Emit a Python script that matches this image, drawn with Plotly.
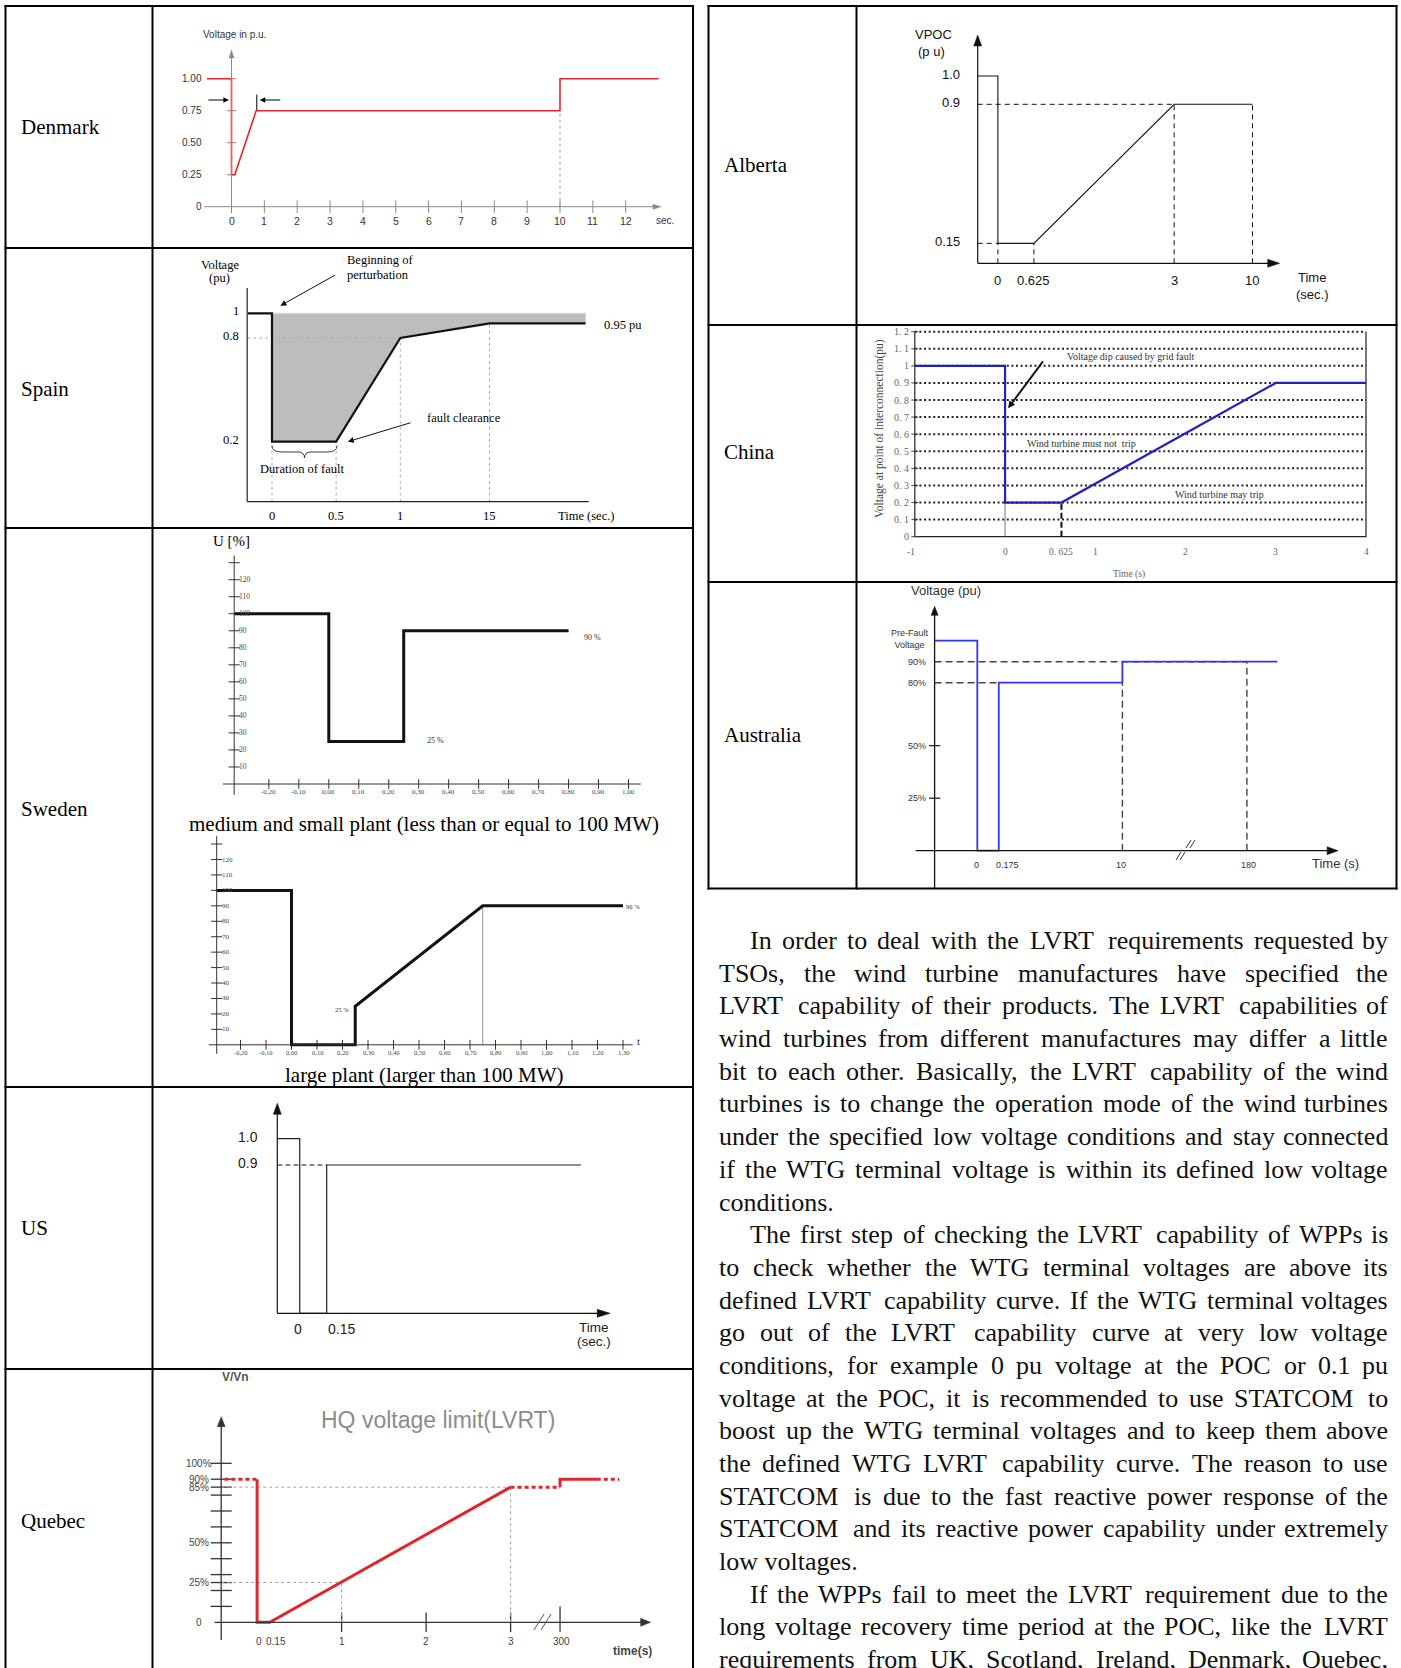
import numpy as np
import plotly.graph_objects as go

W, H = 1401, 1668
SERIF = "'Liberation Serif', 'Times New Roman', serif"
SANS = "'Liberation Sans', Arial, sans-serif"
NARROW = "'Liberation Sans Narrow', 'Arial Narrow', 'Liberation Sans', sans-serif"

# ============================ DATA ============================
# Denmark : voltage (p.u.) vs time (s)
dk_t = [-0.75, 0.0, 0.0, 0.1, 0.75, 10.0, 10.0, 13.0]
dk_u = [1.00, 1.00, 0.25, 0.25, 0.75, 0.75, 1.00, 1.00]
dk_xticks = [0, 1, 2, 3, 4, 5, 6, 7, 8, 9, 10, 11, 12]
dk_yticks = [0.0, 0.25, 0.50, 0.75, 1.00]
dk_ylabels = ["0", "0.25", "0.50", "0.75", "1.00"]

# Spain
es_t = [0.0, 0.0, 0.5, 1.0, 15.0]
es_u = [1.0, 0.2, 0.2, 0.8, 0.95]
es_xticks = [0.0, 0.5, 1.0, 15.0]
es_xlabels = ["0", "0.5", "1", "15"]
es_yticks = [1.0, 0.8, 0.2]
es_ylabels = ["1", "0.8", "0.2"]

# Sweden (U in %, t in s)
se1_t = [-0.315, 0.0, 0.0, 0.25, 0.25, 0.80]
se1_u = [100, 100, 25, 25, 90, 90]
se2_t = [-0.293, 0.0, 0.0, 0.25, 0.25, 0.75, 1.30]
se2_u = [100, 100, 0, 0, 25, 90, 90]
se_yticks = [10, 20, 30, 40, 50, 60, 70, 80, 90, 100, 110, 120]
se_ymarks = [10, 20, 30, 40, 50, 60, 70, 80, 90, 100, 110, 120, 130]
se1_xticks = [-0.2, -0.1, 0.0, 0.1, 0.2, 0.3, 0.4, 0.5, 0.6, 0.7, 0.8, 0.9, 1.0]
se2_xticks = [-0.2, -0.1, 0.0, 0.1, 0.2, 0.3, 0.4, 0.5, 0.6, 0.7, 0.8, 0.9, 1.0, 1.1, 1.2, 1.3]

# US
us_t = [-0.124, 0.0, 0.0, 0.15, 0.15, 1.563]
us_u = [1.0, 1.0, 0.0, 0.0, 0.9, 0.9]
us_xticks = [0.0, 0.15]
us_xlabels = ["0", "0.15"]
us_yticks = [1.0, 0.9]
us_ylabels = ["1.0", "0.9"]

# Quebec (V/Vn in %)
q_t = [0.0, 0.0, 0.15, 3.0, 300.0, 300.0]
q_u = [90, 0, 0, 85, 85, 90]
q_xticks = [0, 0.15, 1, 2, 3, 300]
q_xlabels = ["0", "0.15", "1", "2", "3", "300"]
q_yticks = [100, 90, 85, 50, 25, 0]
q_ylabels = ["100%", "90%", "85%", "50%", "25%", "0"]
q_ymarks = [10, 20, 30, 40, 50, 60, 70, 80, 90, 100, 85, 25]

# Alberta
ab_t = [0.0, 0.0, 0.625, 3.0, 10.0]
ab_u = [1.0, 0.15, 0.15, 0.9, 0.9]
ab_xticks = [0.0, 0.625, 3.0, 10.0]
ab_xlabels = ["0", "0.625", "3", "10"]
ab_yticks = [1.0, 0.9, 0.15]
ab_ylabels = ["1.0", "0.9", "0.15"]

# China
cn_t = [-1.0, 0.0, 0.0, 0.625, 3.0, 4.0]
cn_u = [1.0, 1.0, 0.2, 0.2, 0.9, 0.9]
cn_yticks = [0.0, 0.1, 0.2, 0.3, 0.4, 0.5, 0.6, 0.7, 0.8, 0.9, 1.0, 1.1, 1.2]
cn_ylabels = ["0", "0. 1", "0. 2", "0. 3", "0. 4", "0. 5", "0. 6", "0. 7", "0. 8", "0. 9", "1", "1. 1", "1. 2"]
cn_xticks = [-1, 0, 0.625, 1, 2, 3, 4]
cn_xlabels = ["-1", "0", "0. 625", "1", "2", "3", "4"]

# Australia
au_t = [0.0, 0.0, 0.175, 0.175, 10.0, 10.0, 180.0]
au_u = [1.0, 0.0, 0.0, 0.8, 0.8, 0.9, 0.9]
au_xticks = [0, 0.175, 10, 180]
au_xlabels = ["0", "0.175", "10", "180"]
au_yticks = [0.9, 0.8, 0.5, 0.25]
au_ylabels = ["90%", "80%", "50%", "25%"]

# Table labels
left_rows = ["Denmark", "Spain", "Sweden", "US", "Quebec"]
right_rows = ["Alberta", "China", "Australia"]

para_lines = [
    "In order to deal with the LVRT requirements requested by",
    "TSOs, the wind turbine manufactures have specified the",
    "LVRT capability of their products. The LVRT capabilities of",
    "wind turbines from different manufactures may differ a little",
    "bit to each other. Basically, the LVRT capability of the wind",
    "turbines is to change the operation mode of the wind turbines",
    "under the specified low voltage conditions and stay connected",
    "if the WTG terminal voltage is within its defined low voltage",
    "conditions.",
    "The first step of checking the LVRT capability of WPPs is",
    "to check whether the WTG terminal voltages are above its",
    "defined LVRT capability curve. If the WTG terminal voltages",
    "go out of the LVRT capability curve at very low voltage",
    "conditions, for example 0 pu voltage at the POC or 0.1 pu",
    "voltage at the POC, it is recommended to use STATCOM to",
    "boost up the WTG terminal voltages and to keep them above",
    "the defined WTG LVRT capability curve. The reason to use",
    "STATCOM is due to the fast reactive power response of the",
    "STATCOM and its reactive power capability under extremely",
    "low voltages.",
    "If the WPPs fail to meet the LVRT requirement due to the",
    "long voltage recovery time period at the POC, like the LVRT",
    "requirements from UK, Scotland, Ireland, Denmark, Quebec,",
]
para_indent = {0, 9, 20}
para_last = {8, 19}

# ============================ HELPERS ============================
fig = go.Figure()
shapes, annos = [], []


def P(x, y):
    return x / W, 1 - y / H


def pline(x0, y0, x1, y1, color="#000", width=1.0, dash=None):
    a, b = P(x0, y0)
    c, d = P(x1, y1)
    shapes.append(dict(type="line", xref="paper", yref="paper", x0=a, y0=b, x1=c, y1=d,
                       line=dict(color=color, width=width, dash=dash)))


def ppath(cmds, color="#000", width=1.0, fill=None):
    parts = []
    for c, pts in cmds:
        parts.append(c + " " + " ".join("%.6f,%.6f" % P(x, y) for x, y in pts))
    path = " ".join(parts)
    d = dict(type="path", xref="paper", yref="paper", path=path, line=dict(color=color, width=width))
    if fill:
        d["fillcolor"] = fill
        d["path"] = path + " Z"
    shapes.append(d)


def tri(tx, ty, direc, ln, hw, color="#000"):
    if direc == "up":
        pts = [(tx, ty), (tx - hw, ty + ln), (tx + hw, ty + ln)]
    else:
        pts = [(tx, ty), (tx - ln, ty - hw), (tx - ln, ty + hw)]
    ppath([("M", [pts[0]]), ("L", [pts[1]]), ("L", [pts[2]])], color, 0.5, fill=color)


def ptext(x, y, s, size, family=SERIF, color="#000", xa="center", ya="middle", angle=0, align="center"):
    a, b = P(x, y)
    annos.append(dict(xref="paper", yref="paper", x=a, y=b, text=s, showarrow=False, xanchor=xa,
                      yanchor=ya, textangle=angle, align=align, borderpad=0,
                      font=dict(size=size, family=family, color=color)))


def parrow(tail, tip, color="#000", width=1.0, head=2, size=1.0):
    a, b = P(*tip)
    annos.append(dict(xref="paper", yref="paper", x=a, y=b, ax=tail[0] - tip[0], ay=tail[1] - tip[1],
                      text="", showarrow=True, arrowhead=head, arrowsize=size, arrowwidth=width,
                      arrowcolor=color))


def sch(v, knots, pos):
    v = np.atleast_1d(np.asarray(v, dtype=float))
    out = np.interp(v, knots, pos)
    s0 = (pos[1] - pos[0]) / (knots[1] - knots[0])
    s1 = (pos[-1] - pos[-2]) / (knots[-1] - knots[-2])
    lo, hi = v < knots[0], v > knots[-1]
    out[lo] = pos[0] + (v[lo] - knots[0]) * s0
    out[hi] = pos[-1] + (v[hi] - knots[-1]) * s1
    return list(out)


class Chart:
    def __init__(self, idx, box, xcal, ycal):
        s = "" if idx == 1 else str(idx)
        self.xa, self.ya = "x" + s, "y" + s
        d1, p1, d2, p2 = xcal
        e1, q1, e2, q2 = ycal
        self.kx, self.xd0, self.xp0 = (p2 - p1) / (d2 - d1), d1, p1
        self.ky, self.yd0, self.yp0 = (q2 - q1) / (e2 - e1), e1, q1
        bx0, by0, bx1, by1 = box
        fig.update_layout(**{
            "xaxis" + s: dict(domain=[bx0 / W, bx1 / W], range=[self.dx(bx0), self.dx(bx1)],
                              visible=False, anchor=self.ya, fixedrange=True),
            "yaxis" + s: dict(domain=[1 - by1 / H, 1 - by0 / H], range=[self.dy(by1), self.dy(by0)],
                              visible=False, anchor=self.xa, fixedrange=True)})

    def dx(self, p):
        return self.xd0 + (p - self.xp0) / self.kx

    def dy(self, p):
        return self.yd0 + (p - self.yp0) / self.ky

    def line(self, x, y, color="#000", width=1.0, dash=None, fill=None, fillcolor=None):
        fig.add_trace(go.Scatter(x=list(x), y=list(y), xaxis=self.xa, yaxis=self.ya, mode="lines",
                                 line=dict(color=color, width=width, dash=dash), fill=fill,
                                 fillcolor=fillcolor, hoverinfo="skip", showlegend=False))

    def ticks(self, x, y, symbol, size, color="#000", width=1.0):
        fig.add_trace(go.Scatter(x=list(x), y=list(y), xaxis=self.xa, yaxis=self.ya, mode="markers",
                                 marker=dict(symbol=symbol, size=size, color=color,
                                             line=dict(color=color, width=width)),
                                 hoverinfo="skip", showlegend=False))

    def text(self, x, y, s, size, family=SERIF, color="#000", xa="center", ya="middle", xs=0, ys=0):
        annos.append(dict(xref=self.xa, yref=self.ya, x=x, y=y, text=s, showarrow=False, xanchor=xa,
                          yanchor=ya, xshift=xs, yshift=ys, borderpad=0,
                          font=dict(size=size, family=family, color=color)))

    def arrow(self, tail, tip, color="#000", width=1.0, head=2, size=1.0):
        annos.append(dict(xref=self.xa, yref=self.ya, x=tip[0], y=tip[1], axref=self.xa,
                          ayref=self.ya, ax=tail[0], ay=tail[1], text="", showarrow=True,
                          arrowhead=head, arrowsize=size, arrowwidth=width, arrowcolor=color))


# ============================ DENMARK ============================
RED = "#e3262a"
GAX = "#8a8a8a"
dk = Chart(1, (154, 8, 692, 246), (0, 231.5, 10, 560.0), (0, 206.7, 1.0, 78.7))
pline(231.5, 57, 231.5, 210, GAX, 1)
tri(231.5, 50, "up", 8, 2.5, GAX)
pline(204, 206.7, 654, 206.7, GAX, 1)
tri(661, 206.7, "right", 8, 2.5, GAX)
dk.ticks(dk_xticks, [0] * len(dk_xticks), "line-ns", 9, GAX, 1)
dk.ticks([0] * 4, dk_yticks[1:], "line-ew", 7, GAX, 1)
for t in dk_xticks:
    dk.text(t, 0, str(t), 10.5, NARROW, "#333", ys=-14)
ptext(665, 220.7, "sec.", 10, NARROW, "#333")
for v, l in zip(dk_yticks, dk_ylabels):
    dk.text(0, v, l, 10, NARROW, "#333", xa="right", xs=-29)
ptext(234, 35, "Voltage in p.u.", 10, NARROW, "#333")
dk.line([10, 10], [0, 0.75], "#999", 1, "dot")
dk.line(dk_t, dk_u, RED, 1.6)
dk.arrow((-0.75, 0.834), (-0.08, 0.834), "#000", 1.1, 2, 1.0)
dk.arrow((1.53, 0.834), (0.86, 0.834), "#000", 1.1, 2, 1.0)
dk.line([0.77, 0.77], [0.755, 0.875], "#000", 1)

# ============================ SPAIN ============================
es_xk, es_xp = [0.0, 0.5, 1.0, 15.0], [0.0, 0.5, 1.0, 1.696]
es_yk, es_yp = [0.2, 0.8, 0.95, 1.0], [0.2, 0.8, 0.885, 0.943]
es = Chart(2, (154, 249, 692, 527), (0, 272.0, 1.0, 400.3), (0.2, 441.7, 0.8, 338.0))
EX = lambda v: sch(v, es_xk, es_xp)
EY = lambda v: sch(v, es_yk, es_yp)
es_lead, es_end = es.dx(248.0), es.dx(585.6)
es_yax, es_xax = es.dy(501.7), es.dx(247.2)
fx = [EX(0)[0], es_end, es_end] + EX(es_t[::-1])
fy = [EY(1.0)[0], EY(1.0)[0], EY(0.95)[0]] + EY(es_u[::-1])
es.line(fx, fy, "#bdbdbd", 0.1, fill="toself", fillcolor="#bdbdbd")
es.line([EX(0)[0], es_end], [EY(1.0)[0]] * 2, "#d6d6d6", 1.2)
for t, u in zip(es_t[1:], es_u[1:]):
    es.line(EX([t, t]), [es_yax, EY(u)[0]], "#aaaaaa", 1, "dot")
es.line([es_xax, EX(1.0)[0]], EY([0.8, 0.8]), "#aaaaaa", 1, "dot")
es.line([es_lead] + EX(es_t) + [es_end], EY([1.0] + es_u + [0.95]), "#111", 2.2)
pline(247.2, 288, 247.2, 501.7, "#222", 1.2)
pline(247.2, 501.7, 588.7, 501.7, "#222", 1.2)
for t, l in zip(es_xticks, es_xlabels):
    es.text(EX(t)[0], es_yax, l, 12.5, SERIF, ys=-14)
for v, l in zip(es_yticks, es_ylabels):
    es.text(es_xax, EY(v)[0], l, 12.5, SERIF, xa="right", xs=-7, ys=2)
ptext(219.9, 265, "Voltage", 12.5)
ptext(219.9, 278.3, "(pu)", 12.5)
ptext(346.4, 260, "Beginning of", 12.5, xa="left")
ptext(346.4, 275, "perturbation", 12.5, xa="left")
ptext(602.6, 325, "0.95 pu", 12.5, xa="left")
ptext(426.3, 418.3, "fault clearance", 12.5, xa="left")
ptext(302.4, 469, "Duration of fault", 12.5)
ptext(585.6, 515.7, "Time (sec.)", 12.5)
parrow((336.5, 274.3), (280.4, 305.7), "#111", 1, 2, 1.2)
parrow((412, 422.3), (347.8, 441.7), "#111", 1, 2, 1.2)
ppath([("M", [(272, 446)]), ("Q", [(272, 452), (282, 452)]), ("L", [(298, 452)]),
       ("Q", [(304.5, 452), (304.5, 458)]), ("Q", [(304.5, 452), (311, 452)]), ("L", [(327, 452)]),
       ("Q", [(337, 452), (337, 446)])], "#222", 0.9)

# ============================ SWEDEN ============================
def sw_label(t):
    return ("%.2f" % t).replace(".", ",")

se1 = Chart(3, (154, 529, 692, 800), (0, 328.8, 1.0, 628.5), (0, 784.0, 120, 579.7))
ax1 = se1.dx(234.2)
pline(234.2, 555.6, 234.2, 794.8, "#333", 1)
pline(223, 784, 640.8, 784, "#333", 1)
se1.ticks([ax1] * len(se_ymarks), se_ymarks, "line-ew", 8, "#333", 1)
se1.ticks(se1_xticks, [0] * len(se1_xticks), "line-ns", 7, "#333", 1)
for v in se_yticks:
    se1.text(ax1, v, str(v), 7.5, SERIF, "#444", xa="left", xs=4)
for t in se1_xticks:
    se1.text(t, 0, sw_label(t), 7, SERIF, "#444", ys=-8)
se1.line(se1_t, se1_u, "#111", 3)
ptext(592.3, 637.6, "90 %", 8, SERIF, "#333")
ptext(435.3, 740.8, "25 %", 8, SERIF, "#333")
ptext(231, 541.2, "U [%]", 15)
ptext(424, 823.6, "medium and small plant (less than or equal to 100 MW)", 21)

se2 = Chart(4, (154, 832, 692, 1062), (0, 291.5, 1.0, 546.5), (0, 1044.8, 120, 859.5))
ax2 = se2.dx(216.7)
pline(216.7, 836.2, 216.7, 1053.8, "#333", 1)
pline(208.7, 1044.8, 632.7, 1044.8, "#333", 1)
ptext(638.5, 1041, "t", 11, SERIF, "#333")
se2.ticks([ax2] * len(se_ymarks), se_ymarks, "line-ew", 8, "#333", 1)
se2.ticks(se2_xticks, [0] * len(se2_xticks), "line-ns", 7, "#333", 1)
for v in se_yticks:
    se2.text(ax2, v, str(v), 7, SERIF, "#444", xa="left", xs=4)
for t in se2_xticks:
    se2.text(t, 0, sw_label(t), 6.5, SERIF, "#444", ys=-8)
se2.line([0.75, 0.75], [0, 90], "#777", 0.8)
se2.line(se2_t, se2_u, "#111", 3)
ptext(342, 1009.9, "25 %", 6.5, SERIF, "#333")
ptext(632.7, 906.3, "90 %", 6.5, SERIF, "#333")
ptext(424.5, 1074.6, "large plant (larger than 100 MW)", 21)

# ============================ US ============================
us_yk, us_yp = [0.0, 0.9, 1.0], [0.0, 0.9, 1.06]
us = Chart(5, (154, 1089, 692, 1367), (0, 299.7, 0.15, 326.7), (0, 1313.3, 0.9, 1165.0))
UY = lambda v: sch(v, us_yk, us_yp)
pline(277.3, 1112, 277.3, 1313.3, "#111", 1.2)
tri(277.3, 1103.3, "up", 11, 4, "#111")
pline(277.3, 1313.3, 600, 1313.3, "#111", 1.2)
tri(610.2, 1313.3, "right", 13, 4, "#111")
us.line([us_t[0], 0.15], UY([0.9, 0.9]), "#111", 1, "5px,3px")
us.line(us_t, UY(us_u), "#222", 1.2)
for v, l in zip(us_yticks, us_ylabels):
    us.text(us_t[0], UY(v)[0], l, 14, SANS, "#222", xa="right", xs=-18, ys=2)
us.text(us_xticks[0], 0, us_xlabels[0], 14, SANS, "#222", xs=-2, ys=-16)
us.text(us_xticks[1], 0, us_xlabels[1], 14, SANS, "#222", xs=15, ys=-16)
ptext(593.6, 1327.3, "Time", 13.5, SANS, "#222")
ptext(593.6, 1341, "(sec.)", 13.5, SANS, "#222")

# ============================ QUEBEC ============================
q_xk, q_xp = [0, 0.15, 1, 2, 3, 300], [0, 0.15, 1, 2, 3, 3.585]
qc = Chart(6, (154, 1371, 692, 1668), (0, 257.1, 3, 510.6), (0, 1622.3, 100, 1463.3))
QX = lambda v: sch(v, q_xk, q_xp)
q_yax = qc.dx(221.2)
q_lead, q_tail1, q_tail2 = qc.dx(224.4), qc.dx(596.8), qc.dx(619.2)
QRED = "#e0262b"
ptext(437.5, 1420, "HQ voltage limit(LVRT)", 23, SANS, "#8c8c8c")
ptext(235.6, 1377, "<b>V/Vn</b>", 12, SANS, "#555")
pline(221.2, 1425, 221.2, 1640, "#333", 1.3)
tri(221.2, 1416.7, "up", 10, 4, "#333")
pline(214.5, 1622.3, 642, 1622.3, "#333", 1.3)
tri(650.6, 1622.3, "right", 10, 4, "#333")
qc.ticks([q_yax] * len(q_ymarks), q_ymarks, "line-ew", 15, "#333", 1.3)
qc.ticks(QX([1, 2, 3]), [0, 0, 0], "line-ns", 14, "#333", 1.3)
qc.ticks(QX([300]), [2], "line-ns", 18, "#333", 1.3)
for v, l in zip(q_yticks, q_ylabels):
    qc.text(q_yax, v, l, 10, SANS, "#444", xs=-22.6)
q_xshift = [2, 6, 0, 0, 0, 1]
for t, l, s in zip(q_xticks, q_xlabels, q_xshift):
    qc.text(QX(t)[0], 0, l, 10, SANS, "#444", xs=s, ys=-19.4)
ptext(632.7, 1651, "<b>time(s)</b>", 12, SANS, "#444")
GD = "#a0a0a0"
qc.line([q_yax, QX(3)[0]], [85, 85], GD, 1, "dot")
qc.line([q_yax, QX(1)[0]], [25, 25], GD, 1, "dot")
qc.line(QX([1, 1]), [0, 25], GD, 1, "dot")
qc.line(QX([3, 3]), [0, 85], GD, 1, "dot")
qc.line([q_lead, 0], [q_u[0], q_u[0]], QRED, 3, "4px,3px")
qc.line(QX(q_t[:4]), q_u[:4], QRED, 3)
qc.line(QX(q_t[3:5]), q_u[3:5], QRED, 3, "4px,3px")
qc.line(QX(q_t[4:]) + [q_tail1], q_u[4:] + [q_u[-1]], QRED, 3)
qc.line([q_tail1, q_tail2], [q_u[-1], q_u[-1]], QRED, 3, "4px,3px")
pline(534, 1630, 544, 1614, "#555", 1)
pline(541, 1630, 551, 1614, "#555", 1)

# ============================ ALBERTA ============================
ab_xk, ab_xp = [0, 0.625, 3, 10], [0, 0.625, 3.06, 4.42]
ab_yk, ab_yp = [0, 0.15, 0.9, 1.0], [0, 0.113, 0.9, 1.06]
ab = Chart(7, (858, 8, 1395, 323), (0, 997.9, 0.625, 1033.9), (0, 263.3, 0.9, 104.3))
AX_ = lambda v: sch(v, ab_xk, ab_xp)
AY_ = lambda v: sch(v, ab_yk, ab_yp)
ab_yax = ab.dx(977.7)
pline(977.7, 45, 977.7, 263.3, "#111", 1.2)
tri(977.7, 35, "up", 11, 4, "#111")
pline(977.7, 263.3, 1269, 263.3, "#111", 1.2)
tri(1279.7, 263.3, "right", 12, 4, "#111")
DSH = "5px,4px"
ab.line([ab_yax, AX_(3)[0]], AY_([0.9, 0.9]), "#111", 1, DSH)
ab.line([ab_yax, AX_(0)[0]], AY_([0.15, 0.15]), "#111", 1, DSH)
for t, u in zip(ab_t[1:], ab_u[1:]):
    ab.line(AX_([t, t]), [0, AY_(u)[0]], "#111", 1, DSH)
ab.line([ab_yax] + AX_(ab_t), AY_([1.0] + ab_u), "#111", 1.1)
for v, l in zip(ab_yticks, ab_ylabels):
    ab.text(ab_yax, AY_(v)[0], l, 13, SANS, "#111", xa="right", xs=-16.7, ys=2)
for t, l in zip(ab_xticks, ab_xlabels):
    ab.text(AX_(t)[0], 0, l, 13, SANS, "#111", ys=-17.7)
ptext(933.6, 35, "VPOC", 13, SANS, "#111")
ptext(931.4, 51.7, "(p u)", 13, SANS, "#111")
ptext(1312, 277.7, "Time", 13, SANS, "#111")
ptext(1312, 294, "(sec.)", 13, SANS, "#111")

# ============================ CHINA ============================
cn = Chart(8, (858, 327, 1395, 580), (-1, 914.8, 4, 1366.0), (0, 536.7, 1.2, 331.7))
for v in cn_yticks[1:]:
    cn.line([-1, 4], [v, v], "#222", 2, "2px,2.6px")
cn.line([-1, -1, 4, 4], [1.2, 0, 0, 1.2], "#222", 1.2)
cn.ticks([-1] * len(cn_yticks), cn_yticks, "line-ew", 5, "#444", 1)
for v, l in zip(cn_yticks, cn_ylabels):
    cn.text(-1, v, l, 10, SERIF, "#666", xa="right", xs=-5)
cn_xshift = [-4, 0, 0, 0, 0, 0, 0]
for t, l, s in zip(cn_xticks, cn_xlabels, cn_xshift):
    cn.text(t, 0, l, 9.5, SERIF, "#666", xs=s, ys=-15.6)
ptext(1129, 574, "Time (s)", 9.5, SERIF, "#666")
ptext(880, 429, "Voltage at point of interconnection(pu)", 11.5, SERIF, "#444", angle=-90)
cn.line([0, 0], [0, 0.2], "#555", 0.8)
cn.line([0.625, 0.625], [0, 0.2], "#111", 2, "6px,3px")
cn.line(cn_t, cn_u, "#2222bb", 2.2)
cn.arrow((0.433, 1.035), (0.034, 0.752), "#111", 2, 2, 0.7)
ptext(1131.4, 356.7, "Voltage dip caused by grid fault", 10, SERIF, "#333")
ptext(1081, 443.3, "Wind turbine must not  trip", 10, SERIF, "#333")
ptext(1219, 495, "Wind turbine may trip", 10, SERIF, "#333")

# ============================ AUSTRALIA ============================
au_xk, au_xp = [0, 0.175, 10, 180], [0, 1.48, 10, 18.58]
au = Chart(9, (858, 584, 1395, 887), (0, 977.3, 10, 1122.4), (0, 850.7, 1.0, 640.7))
AUX = lambda v: sch(v, au_xk, au_xp)
au_yax, au_tail = au.dx(934.6), au.dx(1277.4)
pline(934.6, 614, 934.6, 888, "#111", 1.3)
tri(934.6, 606.3, "up", 9, 3.5, "#111")
pline(915.7, 850.7, 1329, 850.7, "#111", 1.3)
tri(1338.1, 850.7, "right", 11, 4, "#111")
DG = "#444"
au.line([au_yax, AUX(180)[0]], [0.9, 0.9], DG, 1.4, "7px,4px")
au.line([au_yax, AUX(0.175)[0]], [0.8, 0.8], DG, 1.4, "7px,4px")
au.line(AUX([10, 10]), [0, 0.8], DG, 1.4, "7px,4px")
au.line(AUX([180, 180]), [0, 0.9], DG, 1.4, "7px,4px")
au.ticks([au_yax] * 2, [0.25, 0.5], "line-ew", 8, "#111", 1.2)
au.line([au_yax] + AUX(au_t) + [au_tail], [1.0] + au_u + [0.9], "#3434ee", 1.8)
for v, l in zip(au_yticks, au_ylabels):
    au.text(au_yax, v, l, 9, SANS, "#333", xa="right", xs=-8)
ptext(909.5, 639.4, "Pre-Fault<br>Voltage", 9, SANS, "#333")
au_xshift = [-1, 9, -1, 2]
for t, l, s in zip(au_xticks, au_xlabels, au_xshift):
    au.text(AUX(t)[0], 0, l, 9, SANS, "#333", xs=s, ys=-14.5)
ptext(1335.8, 863, "Time (s)", 13, SANS, "#333")
ptext(945.8, 590.3, "Voltage (pu)", 13, SANS, "#333")
pline(1186, 848, 1191, 840, "#333", 1)
pline(1190, 848, 1195, 840, "#333", 1)
pline(1176, 860, 1181, 852, "#333", 1)
pline(1180, 860, 1185, 852, "#333", 1)

# ============================ TABLES ============================
TB = 2.0
for y in [6, 248, 528, 1087, 1369]:
    pline(4.5, y, 694, y, "#000", TB)
for x in [5.5, 152.5, 693]:
    pline(x, 5, x, 1668, "#000", TB)
for y in [6, 325, 582, 888.5]:
    pline(707.5, y, 1397.5, y, "#000", TB)
for x in [708.5, 856.5, 1396.5]:
    pline(x, 5, x, 889.5, "#000", TB)
for lbl, y in zip(left_rows, [127, 388.5, 809, 1228, 1521]):
    ptext(20, y, lbl, 21, SERIF, xa="left")
for lbl, y in zip(right_rows, [165, 452, 735]):
    ptext(723, y, lbl, 21, SERIF, xa="left")

# ============================ PARAGRAPH (justified) ============================
TW = {" ": 250, ".": 250, ",": 250, "(": 333, ")": 333, "-": 333, ":": 278, ";": 278, "%": 833}
for ch, w in zip("abcdefghijklmnopqrstuvwxyz",
                 [444, 500, 444, 500, 444, 333, 500, 500, 278, 278, 500, 278, 778, 500, 500, 500, 500,
                  333, 389, 278, 500, 500, 722, 500, 500, 444]):
    TW[ch] = w
for ch, w in zip("ABCDEFGHIJKLMNOPQRSTUVWXYZ",
                 [722, 667, 667, 722, 611, 556, 722, 722, 333, 389, 722, 611, 889, 722, 722, 556, 722,
                  667, 556, 611, 722, 722, 944, 722, 722, 611]):
    TW[ch] = w
for ch in "0123456789":
    TW[ch] = 500


def tw(s, size):
    return sum(TW.get(c, 500) for c in s) * size / 1000.0


FS = 26
PL, PR, IND = 718.0, 1388.5, 31.0
PY0, PDY = 940.5, 32.69
for i, s in enumerate(para_lines):
    y = PY0 + i * PDY
    xs0 = PL + (IND if i in para_indent else 0)
    if i in para_last:
        ptext(xs0, y, s, FS, SERIF, "#111", xa="left")
        continue
    words = s.split(" ")
    widths = [tw(w, FS) for w in words]
    gap = (PR - xs0 - sum(widths)) / (len(words) - 1)
    x = xs0
    for j, (w, wd) in enumerate(zip(words, widths)):
        if j == len(words) - 1:
            ptext(PR, y, w, FS, SERIF, "#111", xa="right")
        else:
            ptext(x, y, w, FS, SERIF, "#111", xa="left")
        x += wd + gap

fig.update_layout(width=W, height=H, margin=dict(l=0, r=0, t=0, b=0), autosize=False,
                  paper_bgcolor="white", plot_bgcolor="rgba(0,0,0,0)", showlegend=False,
                  shapes=shapes, annotations=annos)
fig.write_html("out.html", config={"displayModeBar": False, "staticPlot": True},
               post_script="document.body.style.margin='0px';document.body.style.padding='0px';"
                           "document.body.style.overflow='hidden';")
